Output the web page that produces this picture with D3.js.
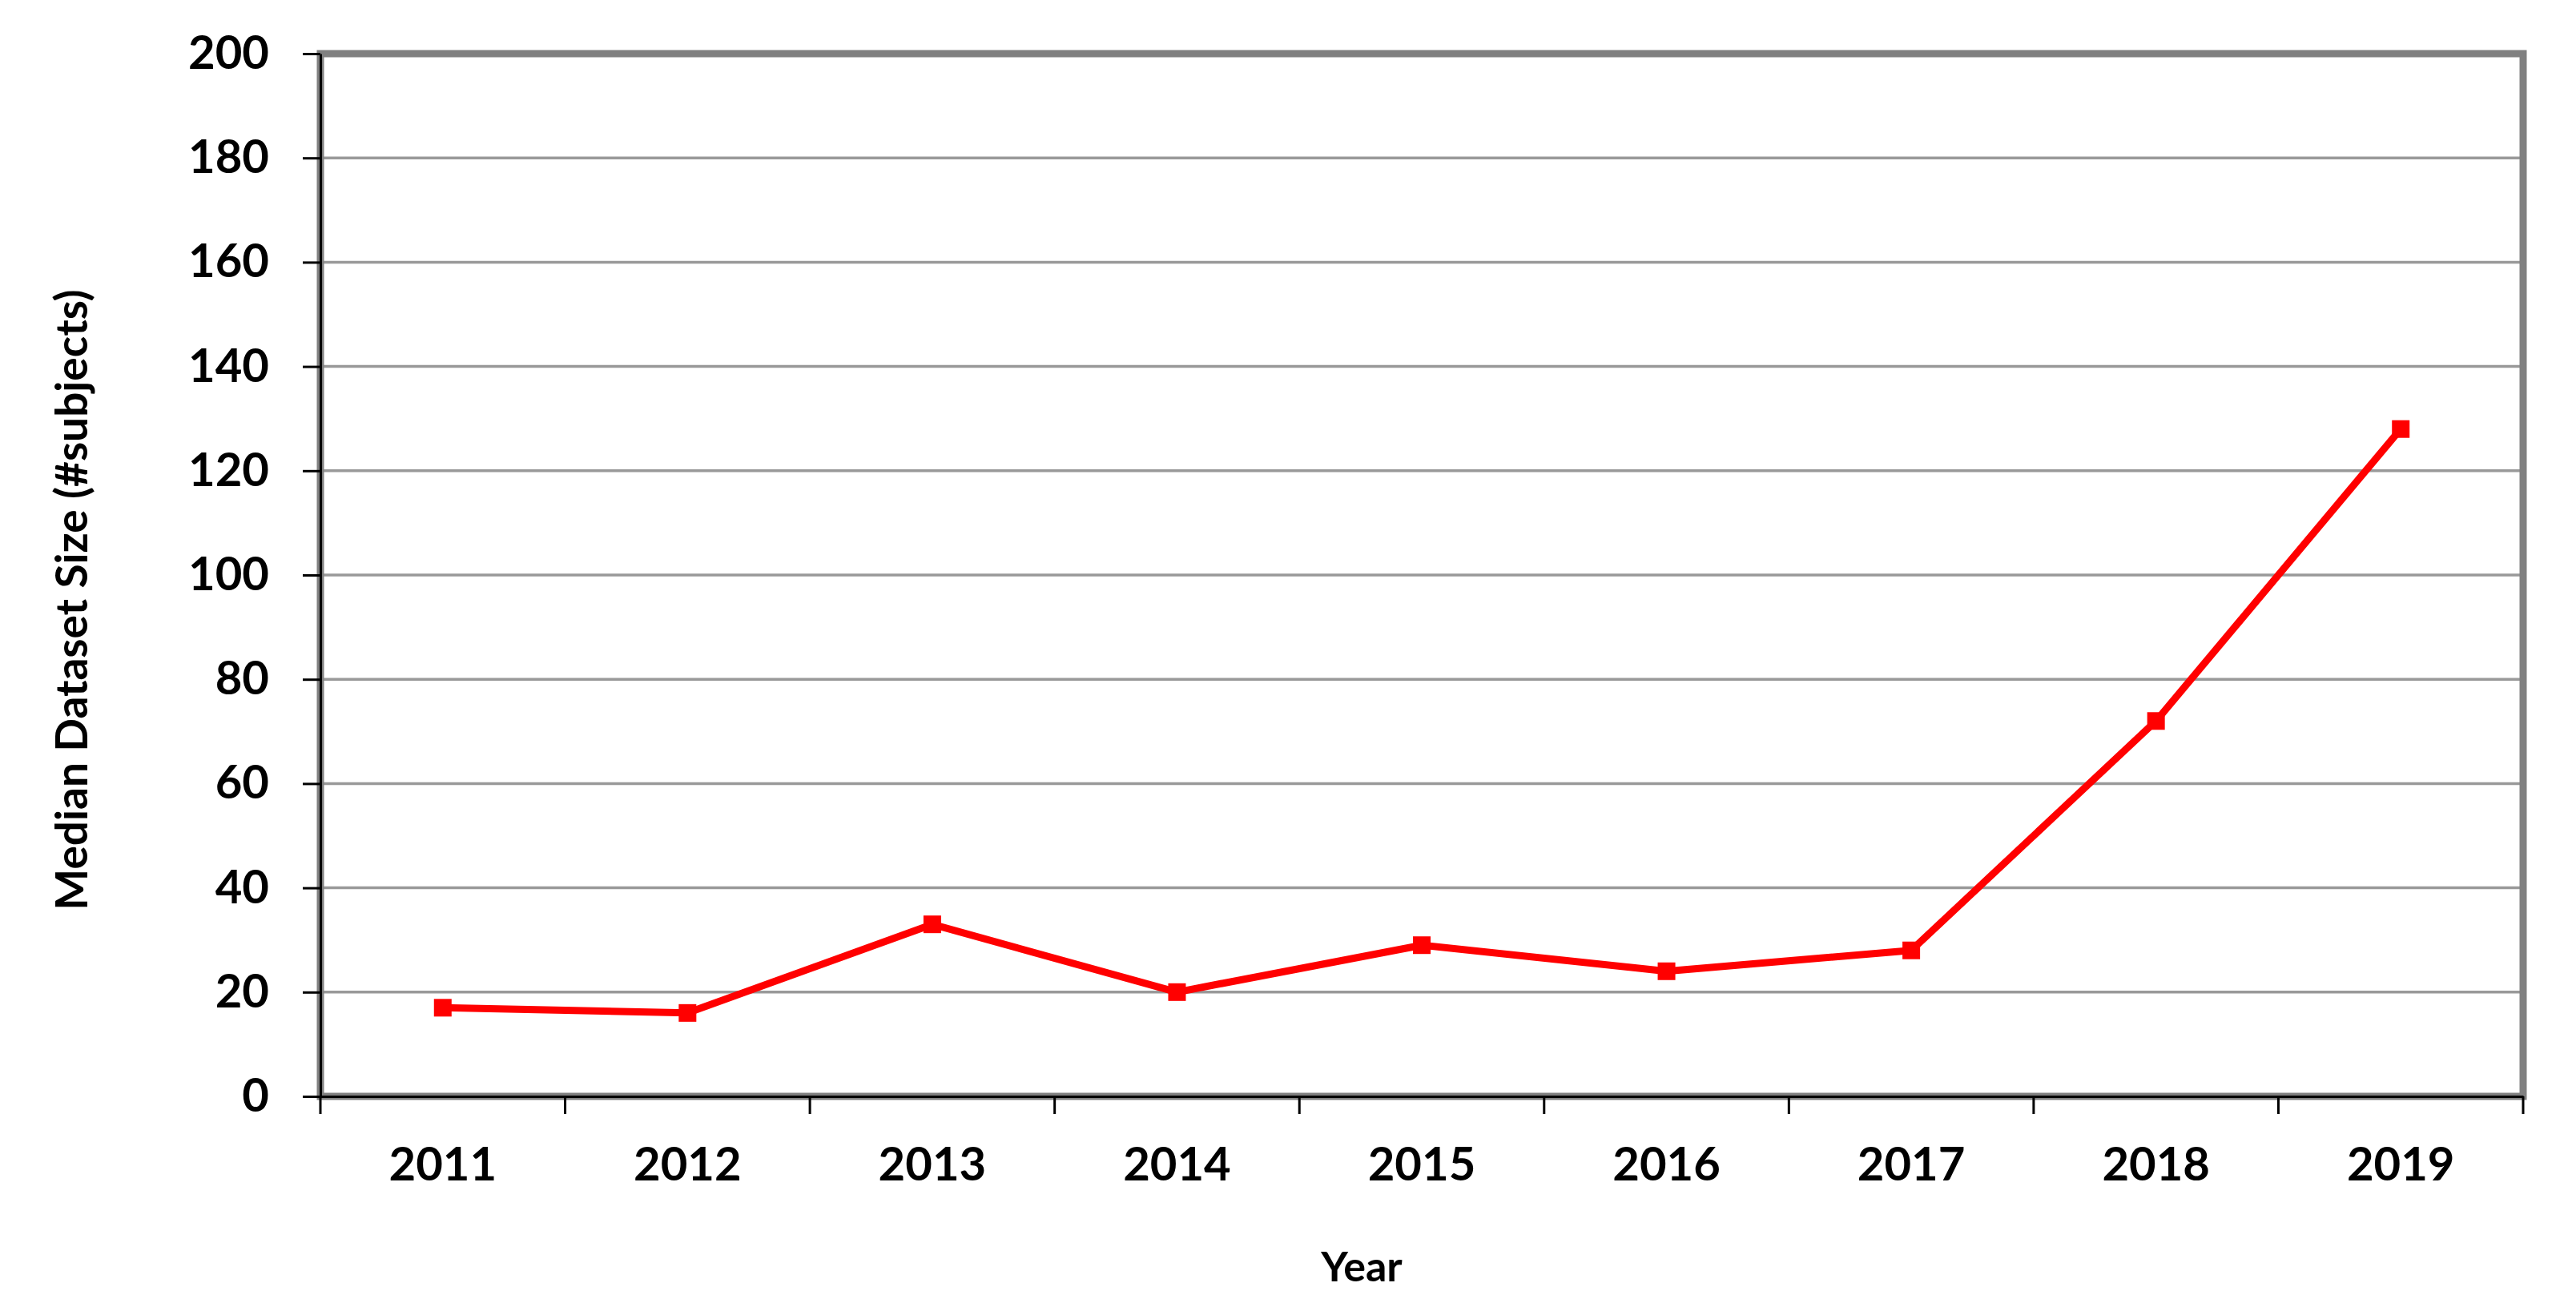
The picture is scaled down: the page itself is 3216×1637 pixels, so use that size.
<!DOCTYPE html>
<html>
<head>
<meta charset="utf-8">
<script src="https://cdn.jsdelivr.net/npm/d3@7"></script>
<style>
  body { margin: 0; background: #fff; }
  svg text { font-family: Lato, "Open Sans", sans-serif; font-weight: bold; fill: #000; }
</style>
</head>
<body>
<div class="chart"></div>
<script>
const years = ['2011','2012','2013','2014','2015','2016','2017','2018','2019'];
const medianSize = [17, 16, 33, 20, 29, 24, 28, 72, 128];
const yTicks = [0, 20, 40, 60, 80, 100, 120, 140, 160, 180, 200];

const W = 3216, H = 1637;
const plot = {left: 400, right: 3150, top: 67, bottom: 1369};

const svg = d3.select(".chart")
    .append("svg")
    .attr("width", W)
    .attr("height", H);

const x = d3.scaleBand()
    .domain(years)
    .range([plot.left, plot.right])
    .padding(0);

const y = d3.scaleLinear()
    .domain([0, 200])
    .range([plot.bottom, plot.top]);

// gridlines
svg.append("g")
    .selectAll("line")
    .data(yTicks.filter(d => d > 0 && d < 200))
    .join("line")
    .attr("x1", plot.left)
    .attr("x2", plot.right)
    .attr("y1", d => y(d))
    .attr("y2", d => y(d))
    .attr("stroke", "#999")
    .attr("stroke-width", 3.5);

// plot area border
svg.append("rect")
    .attr("x", plot.left)
    .attr("y", plot.top)
    .attr("width", plot.right - plot.left)
    .attr("height", plot.bottom - plot.top)
    .attr("fill", "none")
    .attr("stroke", "#808080")
    .attr("stroke-width", 9);

// y axis
const yAxis = svg.append("g")
    .attr("transform", `translate(${plot.left},0)`)
    .call(d3.axisLeft(y).tickValues(yTicks).tickSize(22).tickPadding(42).tickSizeOuter(0));
yAxis.selectAll("text").style("font-size", "58px");
yAxis.selectAll("line, path").attr("stroke", "#000").attr("stroke-width", 3);

// x axis: labels at band centres, ticks at band edges
const xAxis = svg.append("g")
    .attr("transform", `translate(0,${plot.bottom})`)
    .call(d3.axisBottom(x).tickSize(0).tickPadding(64).tickSizeOuter(0));
xAxis.selectAll("text").style("font-size", "58px");
xAxis.select("path").attr("stroke", "#000").attr("stroke-width", 3);

const edges = years.map(d => x(d)).concat([x(years[years.length - 1]) + x.bandwidth()]);
xAxis.append("g")
    .selectAll("line")
    .data(edges)
    .join("line")
    .attr("x1", d => d)
    .attr("x2", d => d)
    .attr("y1", 0)
    .attr("y2", 22)
    .attr("stroke", "#000")
    .attr("stroke-width", 3);

// series
const pts = years.map((yr, i) => ({yr, v: medianSize[i]}));

svg.append("path")
    .datum(pts)
    .attr("fill", "none")
    .attr("stroke", "#ff0000")
    .attr("stroke-width", 9)
    .attr("stroke-linejoin", "round")
    .attr("d", d3.line()
        .x(d => x(d.yr) + x.bandwidth() / 2)
        .y(d => y(d.v)));

svg.append("g")
    .selectAll("rect")
    .data(pts)
    .join("rect")
    .attr("x", d => x(d.yr) + x.bandwidth() / 2 - 11)
    .attr("y", d => y(d.v) - 11)
    .attr("width", 22)
    .attr("height", 22)
    .attr("fill", "#ff0000");

// axis titles
svg.append("text")
    .attr("x", 1700)
    .attr("y", 1600)
    .attr("text-anchor", "middle")
    .style("font-size", "52px")
    .text("Year");

svg.append("text")
    .attr("transform", "translate(109,749) rotate(-90)")
    .attr("text-anchor", "middle")
    .style("font-size", "55px")
    .text("Median Dataset Size (#subjects)");
</script>
</body>
</html>
